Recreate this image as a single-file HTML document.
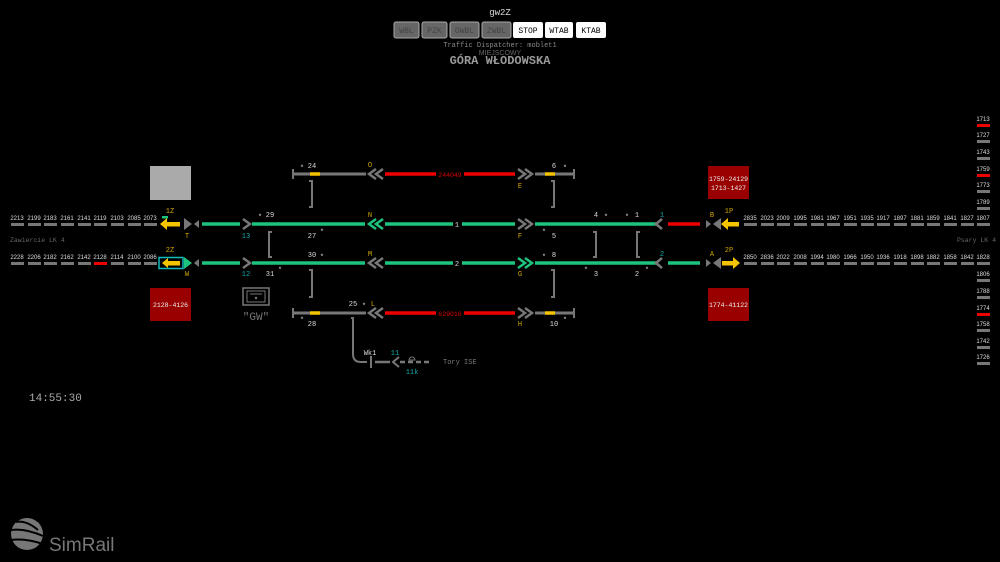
<!DOCTYPE html>
<html><head><meta charset="utf-8"><style>
html,body{margin:0;padding:0;background:#000;width:1000px;height:562px;overflow:hidden}
svg{display:block}
text{font-family:"Liberation Mono",monospace}
.n text{font-family:"Liberation Sans",sans-serif;font-size:6px}
.sans{font-family:"Liberation Sans",sans-serif}
</style></head><body>
<svg width="1000" height="562" viewBox="0 0 1000 562" xmlns="http://www.w3.org/2000/svg">
<rect width="1000" height="562" fill="#000"/>
<!-- header -->
<text x="500" y="15" fill="#ddd" font-size="9" text-anchor="middle">gw2Z</text>
<g font-size="8" text-anchor="middle">
<rect x="394" y="22" width="25" height="16" rx="2" fill="#666" stroke="#aaa"/><text x="406.5" y="33" fill="#444">WBL</text>
<rect x="422" y="22" width="25" height="16" rx="2" fill="#666" stroke="#aaa"/><text x="434.5" y="33" fill="#444">PZK</text>
<rect x="450" y="22" width="29" height="16" rx="2" fill="#666" stroke="#aaa"/><text x="464.5" y="33" fill="#444">OWBL</text>
<rect x="482" y="22" width="29" height="16" rx="2" fill="#666" stroke="#aaa"/><text x="496.5" y="33" fill="#444">ZWBL</text>
<rect x="513" y="22" width="30" height="16" rx="2" fill="#fff"/><text x="528" y="33" fill="#000">STOP</text>
<rect x="545" y="22" width="28" height="16" rx="2" fill="#fff"/><text x="559" y="33" fill="#000">WTAB</text>
<rect x="576" y="22" width="30" height="16" rx="2" fill="#fff"/><text x="591" y="33" fill="#000">KTAB</text>
</g>
<text x="500" y="47" fill="#888" font-size="7" text-anchor="middle">Traffic Dispatcher: moblet1</text>
<text x="500" y="55" fill="#666" font-size="7" text-anchor="middle" class="sans">MIEJSCOWY</text>
<text x="500" y="64" fill="#999" font-size="12" text-anchor="middle" font-weight="bold">GÓRA WŁODOWSKA</text>

<!-- left number rows -->
<g class="n" fill="#ddd" text-anchor="middle">
<text x="17" y="220">2213</text><text x="34" y="220">2199</text><text x="50" y="220">2183</text><text x="67" y="220">2161</text><text x="84" y="220">2141</text><text x="100" y="220">2119</text><text x="117" y="220">2103</text><text x="134" y="220">2085</text><text x="150" y="220">2073</text>
<text x="17" y="259">2228</text><text x="34" y="259">2206</text><text x="50" y="259">2182</text><text x="67" y="259">2162</text><text x="84" y="259">2142</text><text x="100" y="259">2128</text><text x="117" y="259">2114</text><text x="134" y="259">2100</text><text x="150" y="259">2086</text>
</g>
<g fill="#777">
<rect x="11" y="223" width="13" height="3"/><rect x="28" y="223" width="13" height="3"/><rect x="44" y="223" width="13" height="3"/><rect x="61" y="223" width="13" height="3"/><rect x="78" y="223" width="13" height="3"/><rect x="94" y="223" width="13" height="3"/><rect x="111" y="223" width="13" height="3"/><rect x="128" y="223" width="13" height="3"/><rect x="144" y="223" width="13" height="3"/>
<rect x="11" y="262" width="13" height="3"/><rect x="28" y="262" width="13" height="3"/><rect x="44" y="262" width="13" height="3"/><rect x="61" y="262" width="13" height="3"/><rect x="78" y="262" width="13" height="3"/><rect x="94" y="262" width="13" height="3" fill="#e00"/><rect x="111" y="262" width="13" height="3"/><rect x="128" y="262" width="13" height="3"/><rect x="144" y="262" width="13" height="3"/>
</g>
<text x="10" y="242" fill="#666" font-size="6.5">Zawiercie LK 4</text>

<!-- right number rows -->
<g class="n" fill="#ddd" text-anchor="middle">
<text x="750" y="220">2835</text><text x="767" y="220">2023</text><text x="783" y="220">2009</text><text x="800" y="220">1995</text><text x="817" y="220">1981</text><text x="833" y="220">1967</text><text x="850" y="220">1951</text><text x="867" y="220">1935</text><text x="883" y="220">1917</text><text x="900" y="220">1897</text><text x="917" y="220">1881</text><text x="933" y="220">1859</text><text x="950" y="220">1841</text><text x="967" y="220">1827</text><text x="983" y="220">1807</text>
<text x="750" y="259">2850</text><text x="767" y="259">2836</text><text x="783" y="259">2022</text><text x="800" y="259">2008</text><text x="817" y="259">1994</text><text x="833" y="259">1980</text><text x="850" y="259">1966</text><text x="867" y="259">1950</text><text x="883" y="259">1936</text><text x="900" y="259">1918</text><text x="917" y="259">1898</text><text x="933" y="259">1882</text><text x="950" y="259">1858</text><text x="967" y="259">1842</text><text x="983" y="259">1828</text>
<text x="983" y="121">1713</text><text x="983" y="137">1727</text><text x="983" y="154">1743</text><text x="983" y="171">1759</text><text x="983" y="187">1773</text><text x="983" y="204">1789</text>
<text x="983" y="276">1806</text><text x="983" y="293">1788</text><text x="983" y="310">1774</text><text x="983" y="326">1758</text><text x="983" y="343">1742</text><text x="983" y="359">1726</text>
</g>
<g fill="#777">
<rect x="744" y="223" width="13" height="3"/><rect x="761" y="223" width="13" height="3"/><rect x="777" y="223" width="13" height="3"/><rect x="794" y="223" width="13" height="3"/><rect x="811" y="223" width="13" height="3"/><rect x="827" y="223" width="13" height="3"/><rect x="844" y="223" width="13" height="3"/><rect x="861" y="223" width="13" height="3"/><rect x="877" y="223" width="13" height="3"/><rect x="894" y="223" width="13" height="3"/><rect x="911" y="223" width="13" height="3"/><rect x="927" y="223" width="13" height="3"/><rect x="944" y="223" width="13" height="3"/><rect x="961" y="223" width="13" height="3"/><rect x="977" y="223" width="13" height="3"/>
<rect x="744" y="262" width="13" height="3"/><rect x="761" y="262" width="13" height="3"/><rect x="777" y="262" width="13" height="3"/><rect x="794" y="262" width="13" height="3"/><rect x="811" y="262" width="13" height="3"/><rect x="827" y="262" width="13" height="3"/><rect x="844" y="262" width="13" height="3"/><rect x="861" y="262" width="13" height="3"/><rect x="877" y="262" width="13" height="3"/><rect x="894" y="262" width="13" height="3"/><rect x="911" y="262" width="13" height="3"/><rect x="927" y="262" width="13" height="3"/><rect x="944" y="262" width="13" height="3"/><rect x="961" y="262" width="13" height="3"/><rect x="977" y="262" width="13" height="3"/>
<rect x="977" y="124" width="13" height="3" fill="#e00"/><rect x="977" y="140" width="13" height="3"/><rect x="977" y="157" width="13" height="3"/><rect x="977" y="174" width="13" height="3" fill="#e00"/><rect x="977" y="190" width="13" height="3"/><rect x="977" y="207" width="13" height="3"/>
<rect x="977" y="279" width="13" height="3"/><rect x="977" y="296" width="13" height="3"/><rect x="977" y="313" width="13" height="3" fill="#e00"/><rect x="977" y="329" width="13" height="3"/><rect x="977" y="346" width="13" height="3"/><rect x="977" y="362" width="13" height="3"/>
</g>
<text x="996" y="242" fill="#666" font-size="6.5" text-anchor="end">Psary LK 4</text>

<!-- boxes -->
<rect x="150" y="166" width="41" height="34" fill="#aaa"/>
<rect x="150" y="288" width="41" height="33" fill="#990000"/>
<text x="170.5" y="307" fill="#eee" font-size="6.5" text-anchor="middle">2128-4126</text>
<rect x="708" y="166" width="41" height="33" fill="#990000"/>
<text x="728.5" y="181" fill="#eee" font-size="6.5" text-anchor="middle">1759-24129</text>
<text x="728.5" y="190" fill="#eee" font-size="6.5" text-anchor="middle">1713-1427</text>
<rect x="708" y="288" width="41" height="33" fill="#990000"/>
<text x="728.5" y="307" fill="#eee" font-size="6.5" text-anchor="middle">1774-41122</text>

<!-- GW icon -->
<rect x="243" y="288" width="26" height="17" fill="none" stroke="#777" stroke-width="1.5"/>
<rect x="247" y="291" width="18" height="11" fill="none" stroke="#777" stroke-width="1"/>
<line x1="250" y1="294" x2="262" y2="294" stroke="#777"/>
<circle cx="256" cy="298" r="1.2" fill="#777"/>
<text x="256" y="320" fill="#777" font-size="11" text-anchor="middle">"GW"</text>

<!-- main tracks -->
<g stroke-width="3.5">
<line x1="202" y1="224" x2="240" y2="224" stroke="#1dc47f"/>
<line x1="252" y1="224" x2="365" y2="224" stroke="#1dc47f"/>
<line x1="385" y1="224" x2="453" y2="224" stroke="#1dc47f"/>
<line x1="462" y1="224" x2="515" y2="224" stroke="#1dc47f"/>
<line x1="535" y1="224" x2="657" y2="224" stroke="#1dc47f"/>
<line x1="668" y1="224" x2="700" y2="224" stroke="#e00"/>
<line x1="202" y1="263" x2="240" y2="263" stroke="#1dc47f"/>
<line x1="252" y1="263" x2="365" y2="263" stroke="#1dc47f"/>
<line x1="385" y1="263" x2="453" y2="263" stroke="#1dc47f"/>
<line x1="462" y1="263" x2="515" y2="263" stroke="#1dc47f"/>
<line x1="535" y1="263" x2="657" y2="263" stroke="#1dc47f"/>
<line x1="668" y1="263" x2="700" y2="263" stroke="#1dc47f"/>
<line x1="293" y1="174" x2="366" y2="174" stroke="#777" stroke-width="3"/>
<line x1="310" y1="174" x2="320" y2="174" stroke="#f5c400"/>
<line x1="385" y1="174" x2="436" y2="174" stroke="#e00"/>
<line x1="464" y1="174" x2="515" y2="174" stroke="#e00"/>
<line x1="535" y1="174" x2="574" y2="174" stroke="#777" stroke-width="3"/>
<line x1="545" y1="174" x2="555" y2="174" stroke="#f5c400"/>
<line x1="293" y1="313" x2="366" y2="313" stroke="#777" stroke-width="3"/>
<line x1="310" y1="313" x2="320" y2="313" stroke="#f5c400"/>
<line x1="385" y1="313" x2="436" y2="313" stroke="#e00"/>
<line x1="464" y1="313" x2="515" y2="313" stroke="#e00"/>
<line x1="535" y1="313" x2="574" y2="313" stroke="#777" stroke-width="3"/>
<line x1="545" y1="313" x2="555" y2="313" stroke="#f5c400"/>
</g>
<text x="450" y="177" fill="#d00" font-size="6.5" text-anchor="middle">244049</text>
<text x="450" y="316" fill="#d00" font-size="6.5" text-anchor="middle">629016</text>
<text x="457" y="227" fill="#ddd" font-size="7" text-anchor="middle">1</text>
<text x="457" y="266" fill="#ddd" font-size="7" text-anchor="middle">2</text>

<g stroke="#777" stroke-width="2" fill="none">
<path d="M293 169 V179"/>
<path d="M574 169 V179"/>
<path d="M293 308 V318"/>
<path d="M574 308 V318"/>
<path d="M309 181 h3 v26 h-3"/>
<path d="M272 232 h-3 v25 h3"/>
<path d="M309 270 h3 v27 h-3"/>
<path d="M551 181 h3 v26 h-3"/>
<path d="M593 232 h3 v25 h-3"/>
<path d="M640 232 h-3 v25 h3"/>
<path d="M551 270 h3 v27 h-3"/>
<path d="M351 318 h2 v36 q0 8 8 8 h6"/>
<line x1="371" y1="356" x2="371" y2="368"/>
<line x1="375" y1="362" x2="390" y2="362" stroke-width="2.5"/>
<path d="M399 357 l-6 5 l6 5"/>
<line x1="400" y1="362" x2="432" y2="362" stroke-width="2.5" stroke-dasharray="5,3"/>
<path d="M409 360 a3 3 0 0 1 6 0 z" stroke-width="1"/>
</g>
<text x="370" y="355" fill="#ddd" font-size="7" text-anchor="middle">Wk1</text>
<text x="395" y="355" fill="#1aa" font-size="7" text-anchor="middle">11</text>
<text x="412" y="374" fill="#1aa" font-size="7" text-anchor="middle">11k</text>
<text x="443" y="364" fill="#777" font-size="7">Tory ISE</text>

<!-- chevrons -->
<g fill="none" stroke-width="2.5">
<path d="M243 219 l7 5 l-7 5" stroke="#777"/>
<path d="M243 258 l7 5 l-7 5" stroke="#777"/>
<path d="M662 219 l-6 5 l6 5" stroke="#777"/>
<path d="M662 258 l-6 5 l6 5" stroke="#777"/>
<path d="M376 169 l-7 5 l7 5 M383 169 l-7 5 l7 5" stroke="#777"/>
<path d="M376 219 l-7 5 l7 5 M383 219 l-7 5 l7 5" stroke="#1dc47f"/>
<path d="M376 258 l-7 5 l7 5 M383 258 l-7 5 l7 5" stroke="#777"/>
<path d="M376 308 l-7 5 l7 5 M383 308 l-7 5 l7 5" stroke="#777"/>
<path d="M518 169 l7 5 l-7 5 M525 169 l7 5 l-7 5" stroke="#777"/>
<path d="M518 219 l7 5 l-7 5 M525 219 l7 5 l-7 5" stroke="#777"/>
<path d="M518 258 l7 5 l-7 5 M525 258 l7 5 l-7 5" stroke="#1dc47f"/>
<path d="M518 308 l7 5 l-7 5 M525 308 l7 5 l-7 5" stroke="#777"/>
</g>

<!-- left signals -->
<polygon points="184,218 192,224 184,230" fill="#777"/>
<polygon points="199,220 194,224 199,228" fill="#777"/>
<polygon points="184,257 192,263 184,269" fill="#1dc47f"/>
<polygon points="199,259 194,263 199,267" fill="#777"/>
<polygon points="160,224 167,218 167,230" fill="#f5c400"/>
<rect x="167" y="222" width="13" height="4.5" fill="#f5c400"/>
<rect x="159" y="257.5" width="24" height="11" fill="none" stroke="#1bb" stroke-width="1.5"/>
<polygon points="162,263 168,258 168,268" fill="#f5c400"/>
<rect x="168" y="261" width="12" height="4.5" fill="#f5c400"/>
<rect x="162" y="216" width="6" height="2.5" fill="#1dc47f"/>

<!-- right signals -->
<polygon points="706,220 711,224 706,228" fill="#777"/>
<polygon points="721,218 713,224 721,230" fill="#777"/>
<polygon points="706,259 711,263 706,267" fill="#777"/>
<polygon points="721,257 713,263 721,269" fill="#777"/>
<polygon points="721,224 728,218 728,230" fill="#f5c400"/>
<rect x="728" y="222" width="11" height="4.5" fill="#f5c400"/>
<rect x="722" y="261" width="11" height="4.5" fill="#f5c400"/>
<polygon points="740,263 733,257 733,269" fill="#f5c400"/>

<!-- labels -->
<g font-size="7" text-anchor="middle">
<text x="170" y="213" fill="#d4a800">1Z</text>
<text x="170" y="252" fill="#d4a800">2Z</text>
<text x="187" y="238" fill="#d4a800">T</text>
<text x="187" y="276" fill="#d4a800">W</text>
<text x="246" y="238" fill="#1aa">13</text>
<text x="246" y="276" fill="#1aa">12</text>
<text x="370" y="167" fill="#d4a800">O</text>
<text x="370" y="217" fill="#d4a800">N</text>
<text x="370" y="256" fill="#d4a800">M</text>
<text x="373" y="306" fill="#d4a800">L</text>
<text x="520" y="188" fill="#d4a800">E</text>
<text x="520" y="238" fill="#d4a800">F</text>
<text x="520" y="276" fill="#d4a800">G</text>
<text x="520" y="326" fill="#d4a800">H</text>
<text x="662" y="217" fill="#1aa">1</text>
<text x="662" y="256" fill="#1aa">2</text>
<text x="712" y="217" fill="#d4a800">B</text>
<text x="712" y="256" fill="#d4a800">A</text>
<text x="729" y="213" fill="#d4a800">1P</text>
<text x="729" y="252" fill="#d4a800">2P</text>
</g>
<g font-size="7" fill="#ddd" text-anchor="middle">
<text x="312" y="168">24</text><text x="302" y="170">*</text>
<text x="554" y="168">6</text><text x="565" y="170">*</text>
<text x="270" y="217">29</text><text x="260" y="219">*</text>
<text x="312" y="238">27</text><text x="322" y="234">*</text>
<text x="554" y="238">5</text><text x="544" y="234">*</text>
<text x="596" y="217">4</text><text x="606" y="219">*</text>
<text x="637" y="217">1</text><text x="627" y="219">*</text>
<text x="312" y="257">30</text><text x="322" y="259">*</text>
<text x="270" y="276">31</text><text x="280" y="272">*</text>
<text x="554" y="257">8</text><text x="544" y="259">*</text>
<text x="596" y="276">3</text><text x="586" y="272">*</text>
<text x="637" y="276">2</text><text x="647" y="272">*</text>
<text x="353" y="306">25</text><text x="364" y="308">*</text>
<text x="312" y="326">28</text><text x="302" y="322">*</text>
<text x="554" y="326">10</text><text x="565" y="322">*</text>
</g>

<!-- clock -->
<text x="29" y="401" fill="#aaa" font-size="11">14:55:30</text>

<!-- SimRail logo -->
<circle cx="27" cy="534" r="16" fill="#777"/>
<g stroke="#000" stroke-width="2" fill="none">
<path d="M11 530 q14 -2 32 6"/>
<path d="M11 540 q14 -2 32 4"/>
<path d="M16 522 q10 -2 22 8"/>
</g>
<text x="49" y="551" fill="#777" font-size="19" class="sans">SimRail</text>
</svg>
</body></html>
